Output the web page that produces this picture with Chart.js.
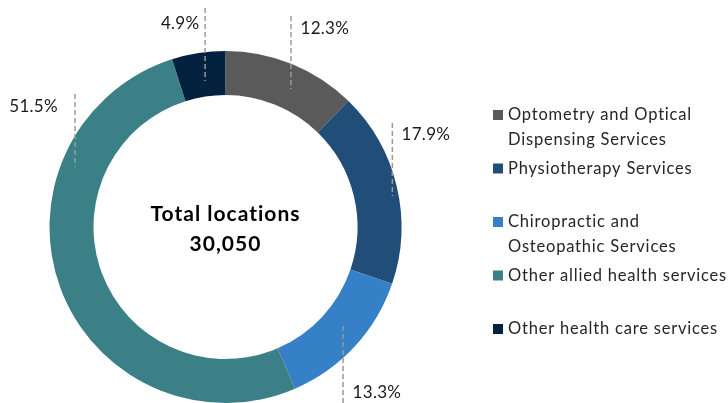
<!DOCTYPE html>
<html>
<head>
<meta charset="utf-8">
<script src="https://cdn.jsdelivr.net/npm/chart.js@4.4.1/dist/chart.umd.min.js"></script>
<style>
  html, body { margin: 0; padding: 0; background: #fff; }
  #wrap { width: 728px; height: 403px; position: relative; }
</style>
</head>
<body>
<div id="wrap"><canvas id="chart" width="728" height="403"></canvas></div>
<script>
// DATOS
const categories = [
    ['Optometry and Optical', 'Dispensing Services'],
    ['Physiotherapy Services'],
    ['Chiropractic and', 'Osteopathic Services'],
    ['Other allied health services'],
    ['Other health care services']
];
const shares = [12.3, 17.9, 13.3, 51.5, 4.9];
const centerLines = ['Total locations', '30,050'];

// ESTILO
const colors = ['#5a5a5a', '#204e78', '#3580c6', '#3b7f87', '#04223f'];
const FONT = "Lato, 'Liberation Sans', sans-serif";

// posiciones de etiquetas relativas al centro, en unidades del radio exterior
// lx = linea x, ly1/ly2 = extremos linea, tx/ty = texto, al = alineacion
const labelLayout = [
    { lx: 0.372, ly1: -1.199, ly2: -0.784, tx: 0.426, ty: -1.125, al: 'left' },
    { lx: 0.948, ly1: -0.591, ly2: -0.176, tx: 1.0, ty: -0.523, al: 'left' },
    { lx: 0.668, ly1: 0.562, ly2: 1.0, tx: 0.722, ty: 0.940, al: 'left' },
    { lx: -0.855, ly1: -0.756, ly2: -0.341, tx: -0.952, ty: -0.682, al: 'right' },
    { lx: -0.116, ly1: -1.244, ly2: -0.830, tx: -0.148, ty: -1.159, al: 'right' }
];

// ETIQUETAS CON LINEA PUNTEADA
const labelsPlugin = {
    id: 'pctLabels',
    afterDatasetsDraw(chart) {
        const ctx = chart.ctx;
        const arc = chart.getDatasetMeta(0).data[0];
        const cx = arc.x, cy = arc.y, R = arc.outerRadius;
        ctx.save();
        chart.data.datasets[0].data.forEach((v, i) => {
            const L = labelLayout[i];
            ctx.strokeStyle = '#9a9a9a';
            ctx.lineWidth = 1.5;
            ctx.setLineDash([5, 3]);
            ctx.beginPath();
            ctx.moveTo(cx + L.lx * R, cy + L.ly1 * R);
            ctx.lineTo(cx + L.lx * R, cy + L.ly2 * R);
            ctx.stroke();
            ctx.setLineDash([]);
            ctx.fillStyle = '#1a1a1a';
            ctx.font = '17px ' + FONT;
            ctx.letterSpacing = '0.3px';
            ctx.textAlign = L.al;
            ctx.textBaseline = 'middle';
            ctx.fillText(v.toFixed(1) + '%', cx + L.tx * R, cy + L.ty * R);
        });

        // texto central
        ctx.fillStyle = '#000';
        ctx.font = 'bold 21px ' + FONT;
        ctx.letterSpacing = '1px';
        ctx.textAlign = 'center';
        ctx.fillText(centerLines[0], cx, cy - 13);
        ctx.fillText(centerLines[1], cx, cy + 17);
        ctx.restore();
    }
};

// LEYENDA A LA DERECHA
const legendPlugin = {
    id: 'sideLegend',
    afterDraw(chart) {
        const ctx = chart.ctx;
        const x0 = 493, y0 = 115, pitch = 53.5, lineH = 24.5;
        ctx.save();
        ctx.font = '16.5px ' + FONT;
        ctx.letterSpacing = '0.8px';
        ctx.textBaseline = 'middle';
        ctx.textAlign = 'left';
        chart.data.labels.forEach((lines, i) => {
            const y = y0 + i * pitch;
            ctx.fillStyle = colors[i];
            ctx.fillRect(x0, y - 5, 10, 10);
            ctx.fillStyle = '#262626';
            lines.forEach((t, j) => ctx.fillText(t, x0 + 15, y + j * lineH));
        });
        ctx.restore();
    }
};

new Chart(document.getElementById('chart'), {
    type: 'doughnut',
    data: {
        labels: categories,
        datasets: [{
            data: shares,
            backgroundColor: colors,
            borderWidth: 0
        }]
    },
    options: {
        responsive: false,
        animation: false,
        cutout: '75%',
        layout: { padding: { left: 49.5, right: 326.5, top: 51, bottom: 0 } },
        plugins: {
            legend: { display: false },
            tooltip: { enabled: false }
        }
    },
    plugins: [labelsPlugin, legendPlugin]
});
</script>
</body>
</html>
